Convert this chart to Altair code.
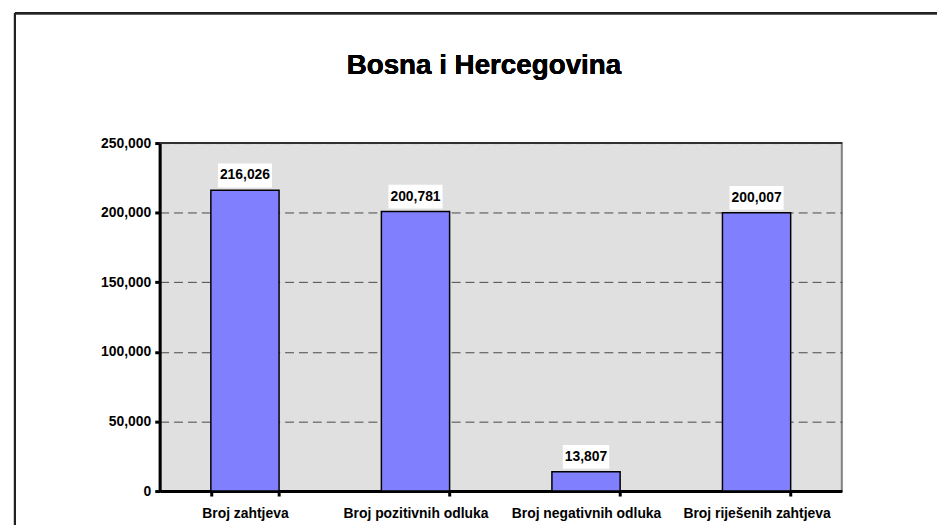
import altair as alt
import pandas as pd

categories = ["Broj zahtjeva", "Broj pozitivnih odluka", "Broj negativnih odluka", "Broj riješenih zahtjeva"]
values = [216026, 200781, 13807, 200007]
y_ticks = [0, 50000, 100000, 150000, 200000, 250000]
title_text = "Bosna i Hercegovina"

FONT = "Liberation Sans"
df = pd.DataFrame({"cat": categories, "value": values})

x_enc = alt.X("cat:N", sort=categories, title=None,
              scale=alt.Scale(paddingInner=0.6, paddingOuter=0.3),
              axis=alt.Axis(labelAngle=0, labelFont=FONT, labelFontSize=14, labelFontWeight="bold",
                            labelColor="black", domainColor="black", domainWidth=3,
                            tickColor="black", tickWidth=3, tickSize=5, tickBand="extent",
                            labelPadding=11, grid=False))
y_enc = alt.Y("value:Q", title=None,
              scale=alt.Scale(domain=[0, 250000], nice=False),
              axis=alt.Axis(values=y_ticks, labelExpr="format(datum.value, ',')",
                            labelFont=FONT, labelFontSize=14,
                            labelFontWeight="bold", labelColor="black", domainColor="black",
                            domainWidth=3, tickColor="black", tickWidth=3, tickSize=5,
                            labelPadding=4, grid=True, gridColor="#484848", gridWidth=1,
                            gridDash=[9, 5]))

base = alt.Chart(df)

bars = base.mark_bar(fill="#8080FF", stroke="black", strokeWidth=1.5).encode(x=x_enc, y=y_enc)

boxes = base.mark_bar(
    color="white", yOffset=-27, y2Offset=-3,
    width=alt.ExprRef(expr="length(format(datum.value, ','))*7.78 - 3.9 + 4")
).encode(x=x_enc, y=y_enc, y2="value:Q")

labels = base.mark_text(font=FONT, fontSize=14, fontWeight="bold", color="black",
                        baseline="middle", dy=-15).encode(
    x=x_enc, y=y_enc, text=alt.Text("value:Q", format=","))

title = base.mark_text(font=FONT, fontSize=28, fontWeight="bold", color="black",
                       baseline="alphabetic", align="center").encode(
    x=alt.value(327), y=alt.value(-70), text=alt.value(title_text))

plot_top = base.mark_rule(color="#303030", strokeWidth=1.5).encode(
    x=alt.value(0), x2=alt.value(688), y=alt.value(0))

border_left = base.mark_rule(color="#222222", strokeWidth=2).encode(
    x=alt.value(-146), y=alt.value(-131), y2=alt.value(400))
border_top = base.mark_rule(color="#222222", strokeWidth=2).encode(
    x=alt.value(-146), x2=alt.value(800), y=alt.value(-131))

chart = alt.layer(bars, boxes, labels, title, plot_top, border_left, border_top).properties(
    width=688, height=351,
    autosize=alt.AutoSizeParams(type="none"),
    padding={"left": 153, "top": 134, "right": 96, "bottom": 32},
    background="white",
).configure_view(
    fill="#E0E0E0", stroke="#808080", strokeWidth=2
)

chart.save("out.html", embed_options={"renderer": "svg", "actions": False})
